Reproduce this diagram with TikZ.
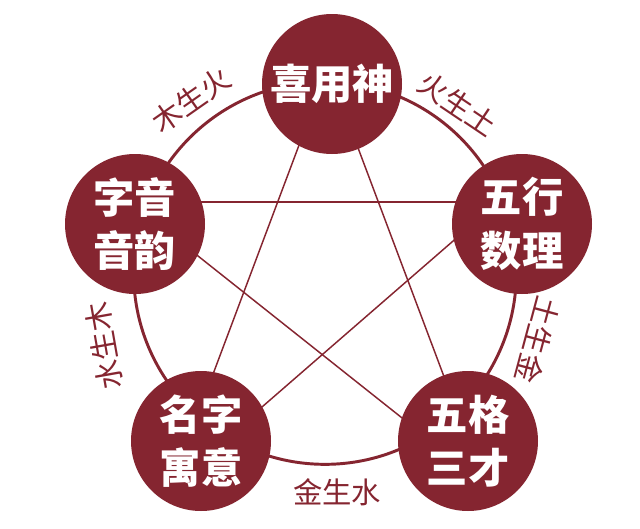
\documentclass[tikz,border=0pt]{standalone}
\usepackage{fontspec}
\newfontfamily\cjk{Noto Sans CJK SC}
\definecolor{wine}{RGB}{133,37,48}
\begin{document}
\begin{tikzpicture}[x=0.75pt,y=-0.75pt,
  ball/.style={circle,fill=wine,minimum size=105pt,inner sep=0pt,text=white,align=center,font=\cjk\bfseries\fontsize{31}{40}\selectfont},
  lab/.style={text=wine,inner sep=0pt,font=\cjk\fontsize{22}{22}\selectfont},
  star/.style={draw=wine,line width=1.1pt},
  ring/.style={draw=wine,line width=2.2pt}]
\useasboundingbox[fill=white] (0,0) rectangle (640,529);

% outer ring
\coordinate(o) at (325,273);
\draw[ring] (o) circle[radius=143.5pt];

% star
\coordinate(s1) at (328,68);
\coordinate(s2) at (130,202);
\coordinate(s3) at (498,202);
\coordinate(s4) at (171,486);
\coordinate(s5) at (484,483);
\draw[star] (s1) -- (s4);
\draw[star] (s1) -- (s5);
\draw[star] (s2) -- (s3);
\draw[star] (s2) -- (s5);
\draw[star] (s3) -- (s4);

\node(xy) at (332,84)[ball]{喜用神};
\node(zy) at (135,224)[ball]{字音\\音韵};
\node(wx) at (522,224)[ball]{五行\\数理};
\node(mz) at (201,441)[ball]{名字\\寓意};
\node(wg) at (468,441)[ball]{五格\\三才};

%\node(mh) at (191,100) {木生火};
\node(mh) at (191,100)[lab,rotate=35]{木生火};
\node(ht) at (458,104)[lab,rotate=-34]{火生土};
\node(sm) at (104,346)[lab,rotate=100]{水生木};
\node(tj) at (538,340)[lab,rotate=-105]{土生金};
\node(js) at (337,492)[lab]{金生水};

\end{tikzpicture}
\end{document}
